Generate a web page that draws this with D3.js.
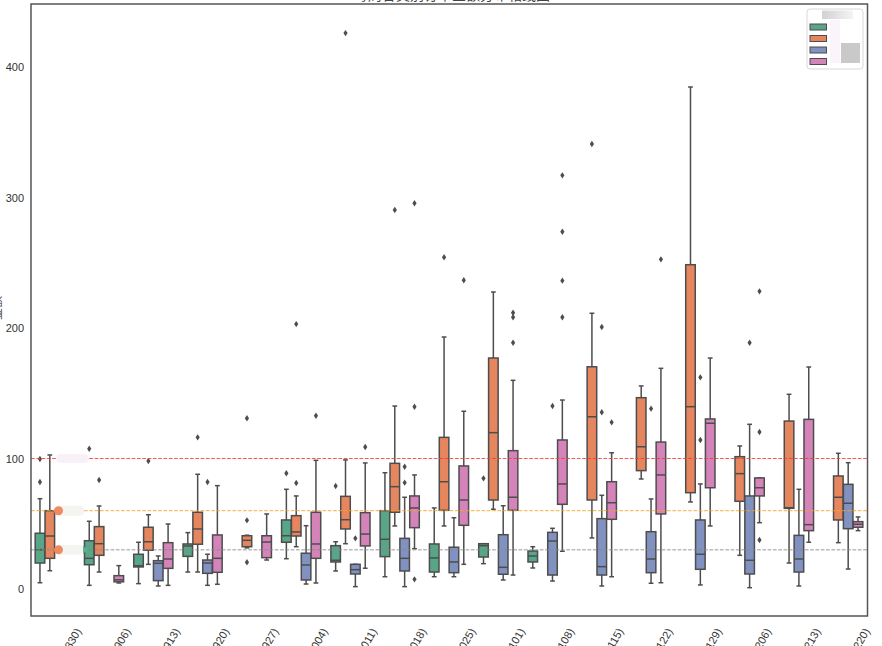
<!DOCTYPE html>
<html><head><meta charset="utf-8">
<script src="https://cdn.jsdelivr.net/npm/d3@7"></script>
<style>body{margin:0;background:#fff;overflow:hidden;} svg{display:block;}</style>
</head><body><svg id="chart" width="882" height="646"></svg>
<script>
// ---------------- DATA ----------------
const categories = ["第1周(0830)","第2周(0906)","第3周(0913)","第4周(0920)","第5周(0927)","第6周(1004)",
  "第7周(1011)","第8周(1018)","第9周(1025)","第10周(1101)","第11周(1108)","第12周(1115)",
  "第13周(1122)","第14周(1129)","第15周(1206)","第16周(1213)","第17周(1220)"];
const hueNames = ["类别A","类别B","类别C","类别D"];
const hueColors = ["#58a588","#e5865e","#8292c0","#d584b9"];
// [whisker low, Q1, median, Q3, whisker high] per category (null = no data)
const statsA = [[4.8,19.9,30.1,42.7,69.2],[2.8,18.6,23.5,37.0,51.9],[4.1,16.9,17.8,26.6,35.8],[13.0,25.0,33.0,34.5,43.2],null,
  [23.2,35.8,40.8,52.9,76.4],[13.8,20.7,22.0,33.2,36.2],[9.4,24.8,38.1,60.0,89.1],[9.4,13.0,23.8,34.5,62.1],
  [19.4,24.5,33.2,34.7,34.7],[16.1,20.7,25.3,29.1,32.4],null,null,null,null,null,null];
const statsB = [[14.0,23.5,40.6,60.0,102.7],[13.0,25.8,34.7,47.8,63.6],[18.9,29.7,36.2,47.3,56.9],[13.0,34.3,46.0,58.8,87.9],
  [31.5,32.4,37.3,40.8,41.2],[32.4,40.6,43.7,56.2,71.3],[34.7,46.0,53.1,71.0,98.9],[48.3,58.8,78.4,96.3,140.2],
  [48.3,60.3,82.2,116.2,193.1],[61.1,68.2,119.8,177.0,227.6],null,[39.1,68.2,132.0,170.3,211.3],
  [84.3,90.7,109.0,146.6,155.6],[66.7,73.8,139.7,248.5,384.7],[25.8,67.2,88.4,101.4,109.6],
  [19.9,61.8,62.3,128.7,149.2],[35.5,52.9,70.3,86.6,104.0]];
const statsC = [null,null,[2.3,6.4,19.7,21.7,25.3],[2.8,12.0,19.9,22.2,26.6],null,[3.8,6.9,18.4,27.4,48.5],
  [1.8,11.5,14.8,18.9,18.9],[1.8,13.8,23.5,38.8,70.3],[9.4,12.5,20.7,32.0,54.6],[6.9,11.3,16.6,41.6,63.8],
  [6.1,10.7,36.8,43.4,46.5],[2.3,10.7,17.1,53.9,71.8],[4.4,12.5,23.0,43.9,69.0],[3.1,15.1,26.6,52.9,80.5],
  [1.0,11.5,22.0,71.3,126.2],[2.3,13.0,23.0,41.1,76.4],[15.3,46.2,65.7,80.2,96.8]];
const statsD = [null,[4.6,5.5,7.0,10.2,17.9],[2.8,15.8,23.0,35.5,49.8],[3.6,12.8,23.5,41.4,79.2],[22.2,24.0,36.0,40.8,57.5],
  [4.6,23.5,34.5,58.8,98.6],[15.9,33.0,42.1,58.5,96.6],[30.9,47.0,62.1,71.3,87.4],[18.9,48.8,68.2,94.3,136.2],
  [10.7,60.3,70.3,106.0,159.9],[28.9,64.9,80.5,114.2,144.8],[9.4,53.4,66.1,82.2,104.4],[4.8,57.5,87.4,112.6,169.1],
  [48.3,77.6,127.0,130.3,177.0],[50.8,71.3,77.6,85.1,85.1],[35.8,44.7,49.3,130.0,170.1],[44.7,47.3,49.6,51.6,55.2]];
const outliersA = [[99.6,82.0],[107.5],[],[],[],[88.7],[78.9],[],[],[84.8],[],[],[],[],[],[],[]];
const outliersB = [[],[83.5],[98.1],[116.2],[130.8,52.6,20.5],[81.2,203],[426],[290.4],[254.2],[],[],[341.0],[],[],[],[],[]];
const outliersC = [[],[],[],[82.0],[],[],[38.8],[93.7,81.5],[],[],[140.2],[200.8,135.4],[138.2],[162.2,114.2],[188.7],[],[]];
const outliersD = [[],[],[],[],[],[132.8],[108.8],[295.6,139.7,7.4],[236.6],[211.7,208.2,188.7],[317.0,273.8,236.3,208.2],
  [127.7],[252.6],[],[228.1,120.3,37.5],[],[]];
const yTicks = [0,100,200,300,400];
const refValues = [100,60,30];
const refColors = ["#f03c3c","#f5a623","#8a8a8a"];
const titleText = "每周各类别订单金额分布箱线图";
const yLabel = "金额";

// ---------------- CHART ----------------
const svg = d3.select("#chart");
const W = 882, H = 646;
const plot = {left:31, right:867.5, top:4, bottom:616};
const x = d3.scaleBand().domain(categories).range([30.1, 867.9]).padding(0);
const y = d3.scaleLinear().domain([-20.7, 448.3]).range([plot.bottom, plot.top]);
const bw = x.bandwidth();
const boxW = bw * 0.2 * 0.97;
const lineCol = "#4d4d4d";

const allStats = [statsA, statsB, statsC, statsD];
const allOut = [outliersA, outliersB, outliersC, outliersD];

svg.append("rect").attr("width", W).attr("height", H).attr("fill", "#fff");

// title (mostly cut off at top, as in the reference)
svg.append("text").attr("x", 452).attr("y", -0.5).attr("text-anchor", "middle")
  .attr("font-family", "Noto Sans CJK SC, sans-serif").attr("font-size", 14).attr("fill", "#444")
  .text(titleText);

// y label (mostly off-canvas, as in the reference)
svg.append("text").attr("transform", "translate(1,308) rotate(-90)").attr("text-anchor", "middle")
  .attr("font-family", "Noto Sans CJK SC, sans-serif").attr("font-size", 12).attr("fill", "#444")
  .text(yLabel);

const g = svg.append("g");

hueColors.forEach((col, h) => {
  const stats = allStats[h];
  categories.forEach((cat, i) => {
    const s = stats[i];
    if (!s) return;
    const cx = x(cat) + bw * (0.2 + 0.2 * h);
    const [lo, q1, med, q3, hi] = s;
    const bg = g.append("g");
    bg.append("line").attr("x1", cx).attr("x2", cx).attr("y1", y(q1)).attr("y2", y(lo))
      .attr("stroke", lineCol).attr("stroke-width", 1.5);
    bg.append("line").attr("x1", cx).attr("x2", cx).attr("y1", y(q3)).attr("y2", y(hi))
      .attr("stroke", lineCol).attr("stroke-width", 1.5);
    [lo, hi].forEach(v => bg.append("line").attr("x1", cx - boxW / 4).attr("x2", cx + boxW / 4)
      .attr("y1", y(v)).attr("y2", y(v)).attr("stroke", lineCol).attr("stroke-width", 1.5));
    bg.append("rect").attr("x", cx - boxW / 2).attr("width", boxW)
      .attr("y", y(q3)).attr("height", Math.max(0.5, y(q1) - y(q3)))
      .attr("fill", col).attr("stroke", lineCol).attr("stroke-width", 1.5);
    bg.append("line").attr("x1", cx - boxW / 2).attr("x2", cx + boxW / 2)
      .attr("y1", y(med)).attr("y2", y(med)).attr("stroke", lineCol).attr("stroke-width", 1.5);
    allOut[h][i].forEach(v => {
      bg.append("path").attr("d", "M0,-3.2L2.1,0L0,3.2L-2.1,0Z")
        .attr("transform", `translate(${cx},${y(v)})`).attr("fill", lineCol);
    });
  });
});

// reference lines
refValues.forEach((v, k) => {
  svg.append("line").attr("x1", plot.left).attr("x2", plot.right).attr("y1", y(v)).attr("y2", y(v))
    .attr("stroke", refColors[k]).attr("stroke-width", 1).attr("stroke-dasharray", "3.7,1.6").attr("opacity", 0.85);
});

// redacted annotation markers at the left
const ann = svg.append("g");
ann.append("rect").attr("x", 56).attr("y", y(100) - 4.5).attr("width", 33).attr("height", 9).attr("rx", 4.5)
  .attr("fill", "#f8f1f8");
[60, 30].forEach(v => {
  ann.append("rect").attr("x", 57).attr("y", y(v) - 5).attr("width", 27).attr("height", 10).attr("rx", 4)
    .attr("fill", "#f4f5f1");
  ann.append("circle").attr("cx", 58.5).attr("cy", y(v)).attr("r", 4.5).attr("fill", "#ef8a62");
});
ann.append("path").attr("d", `M83,${y(30) - 4}L88,${y(30)}L83,${y(30) + 4}Z`).attr("fill", "#5fae90");

// y axis tick labels
const yAxis = svg.append("g").attr("transform", `translate(${plot.left},0)`)
  .call(d3.axisLeft(y).tickValues(yTicks).tickSize(0).tickPadding(7));
yAxis.select(".domain").remove();
yAxis.selectAll("text").attr("font-family", "Liberation Sans, Arial, sans-serif").attr("font-size", 11).attr("fill", "#333");

// x axis labels (rotated, mostly clipped at the bottom as in the reference)
const xAxis = svg.append("g");
categories.forEach(cat => {
  const cx = x(cat) + bw / 2;
  xAxis.append("text").attr("transform", `translate(${cx + 27},631) rotate(-60)`)
    .attr("text-anchor", "end").attr("font-family", "Liberation Sans, Arial, sans-serif")
    .attr("font-size", 11).attr("fill", "#333").text(cat);
});

// frame
svg.append("rect").attr("x", plot.left).attr("y", plot.top).attr("width", plot.right - plot.left)
  .attr("height", plot.bottom - plot.top).attr("fill", "none").attr("stroke", "#555").attr("stroke-width", 1.5);

// legend (labels redacted in reference)
const lg = svg.append("g");
lg.append("rect").attr("x", 807).attr("y", 9).attr("width", 56).attr("height", 60).attr("rx", 3)
  .attr("fill", "#fff").attr("stroke", "#d8d8d8").attr("stroke-width", 1);
const grad = svg.append("defs").append("linearGradient").attr("id", "lgt");
grad.append("stop").attr("offset", "0").attr("stop-color", "#d2d2d2");
grad.append("stop").attr("offset", "1").attr("stop-color", "#f4f4f4");
lg.append("rect").attr("x", 822).attr("y", 10.5).attr("width", 31).attr("height", 8.5).attr("fill", "url(#lgt)");
lg.append("rect").attr("x", 830).attr("y", 20).attr("width", 10).attr("height", 43).attr("fill", "#fbf5fb");
lg.append("rect").attr("x", 841).attr("y", 43).attr("width", 19).attr("height", 20).attr("fill", "#c9c9c9");
hueColors.forEach((col, h) => {
  lg.append("rect").attr("x", 810).attr("y", 24 + h * 11.5).attr("width", 16.5).attr("height", 6)
    .attr("fill", col).attr("stroke", lineCol).attr("stroke-width", 1);
});
</script></body></html>
